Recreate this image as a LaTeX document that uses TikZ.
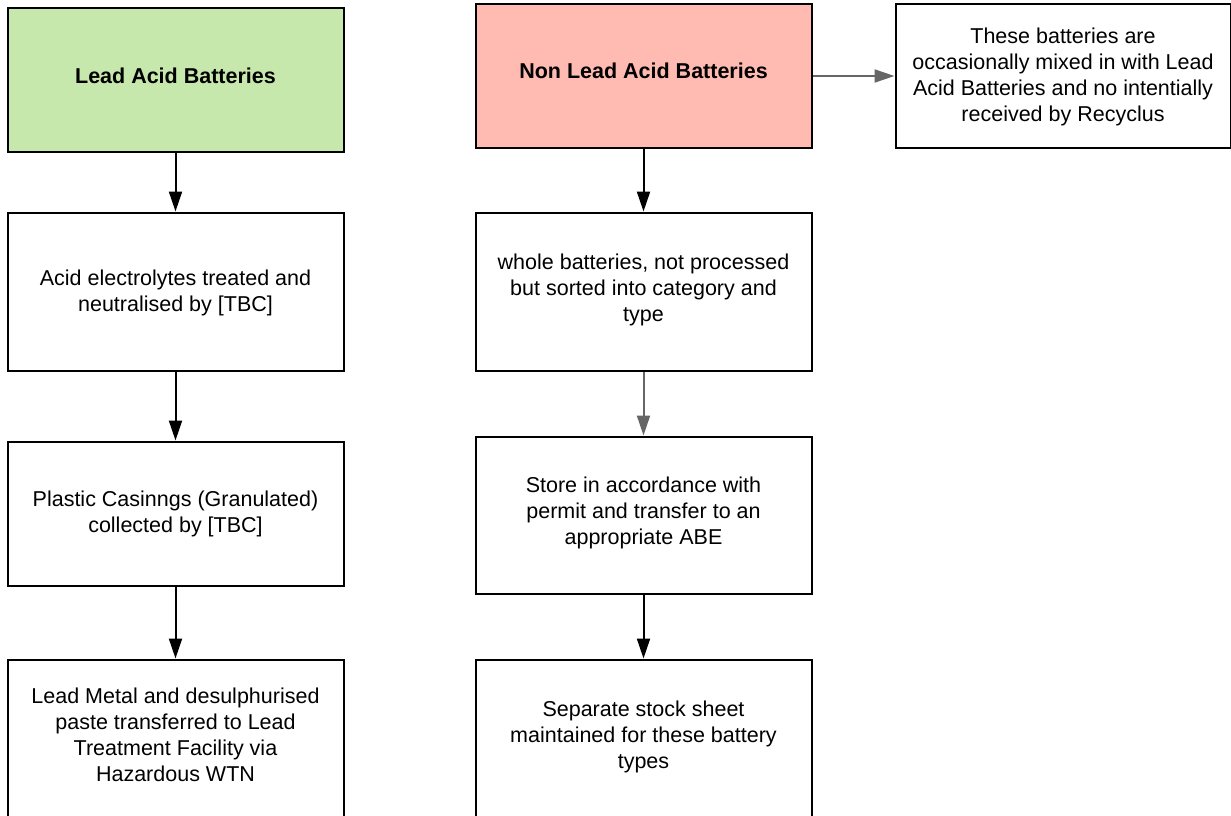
\documentclass[tikz,border=0pt]{standalone}
\usepackage{fontspec}
\setmainfont{Liberation Sans}
\usetikzlibrary{arrows.meta}
\definecolor{boxline}{HTML}{000000}
\definecolor{greenfill}{HTML}{C7E8AC}
\definecolor{pinkfill}{HTML}{FFBBB1}
\definecolor{grayarrow}{HTML}{666666}
% uniform line strut: 16.7pt above, 9.3pt below the baseline (26pt per line)
\newcommand{\mystrut}{\rule[-9.3pt]{0pt}{26pt}}
% first-line strut with extra height (pushes the text block down by half of it)
\newcommand{\firststrut}[1]{\rule[-9.3pt]{0pt}{\dimexpr26pt+#1\relax}}
% strut with extra depth (pushes the text block up by half of it)
\newcommand{\deepstrut}[1]{\rule[\dimexpr-9.3pt-#1\relax]{0pt}{\dimexpr26pt+#1\relax}}
\tikzset{
  flowbox/.style={draw=boxline, line width=2pt, rectangle, minimum width=336pt,
    align=center, inner sep=0pt,
    font=\fontsize{21.5pt}{26pt}\selectfont},
  boldbox/.style={flowbox, font=\fontsize{21.5pt}{26pt}\selectfont\bfseries},
  blackarrow/.style={draw=black, line width=2pt, -{Triangle[length=20pt,width=13pt]}},
  grayconn/.style={draw=grayarrow, line width=2pt, -{Triangle[length=20pt,width=13pt]}}
}
\begin{document}
\begin{tikzpicture}[x=1pt,y=-1pt]
\useasboundingbox (0,0) rectangle (1231,816);
% left column
\node[boldbox, fill=greenfill, minimum height=143pt] (l1) at (175.5,80) {\mystrut Lead Acid Batteries};
\node[flowbox, minimum height=158pt] (l2) at (175.5,291.5) {\firststrut{7pt}Acid electrolytes treated and\\\mystrut neutralised by [TBC]};
\node[flowbox, minimum height=144pt] (l3) at (175.5,513.5) {\firststrut{4pt}Plastic Casinngs (Granulated)\\\mystrut collected by [TBC]};
\node[flowbox, minimum height=158pt] (l4) at (175.5,738.5) {\mystrut Lead Metal and desulphurised\\\mystrut paste transferred to Lead\\\mystrut Treatment Facility via\\\mystrut Hazardous WTN};
% middle column
\node[boldbox, fill=pinkfill, minimum height=143pt] (m1) at (643.5,76) {\deepstrut{2pt}Non Lead Acid Batteries};
\node[flowbox, minimum height=158pt] (m2) at (643.5,291.5) {\mystrut whole batteries, not processed\\\mystrut but sorted into category and\\\mystrut type};
\node[flowbox, minimum height=157pt] (m3) at (643.5,515) {\mystrut Store in accordance with\\\mystrut permit and transfer to an\\\mystrut appropriate ABE};
\node[flowbox, minimum height=158pt] (m4) at (643.5,738.5) {\mystrut Separate stock sheet\\\mystrut maintained for these battery\\\mystrut types};
% right box
\node[flowbox, minimum width=335pt, minimum height=143pt] (r1) at (1063,76) {\firststrut{5pt}These batteries are\\\mystrut occasionally mixed in with Lead\\\mystrut Acid Batteries and no intentially\\\mystrut received by Recyclus};
% connectors
\draw[blackarrow] (l1) -- (l2);
\draw[blackarrow] (l2) -- (l3);
\draw[blackarrow] (l3) -- (l4);
\draw[blackarrow] (m1) -- (m2);
\draw[grayconn] (m2) -- (m3);
\draw[blackarrow] (m3) -- (m4);
\draw[grayconn] (m1) -- (r1);
\end{tikzpicture}
\end{document}
